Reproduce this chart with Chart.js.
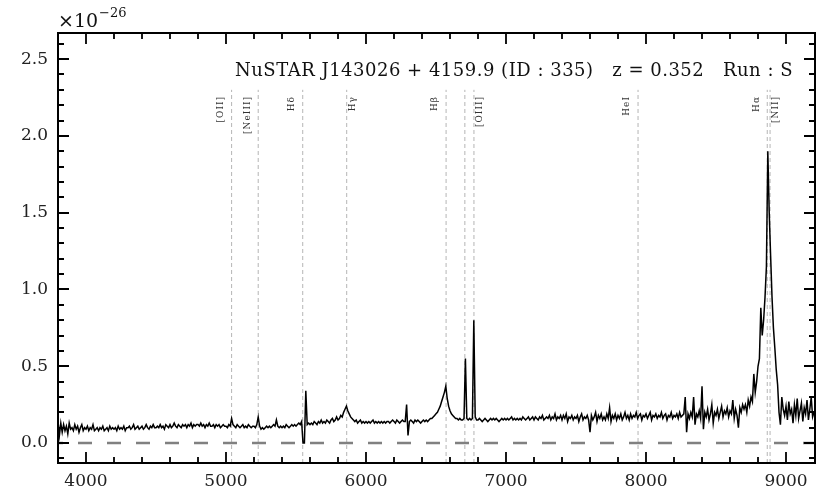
<!DOCTYPE html>
<html>
<head>
<meta charset="utf-8">
<script src="https://cdn.jsdelivr.net/npm/chart.js@4/dist/chart.umd.min.js"></script>
<style>
  html, body { margin: 0; padding: 0; background: #fff; }
</style>
</head>
<body>
<canvas id="spec" width="830" height="498"></canvas>
<script>
// spectrum sampled every 10 A from 3800 A (flux in units of 1e-26)
const waveStart = 3800;
const waveStep = 10;
const flux = [
  0.14, 0.05, 0.13, 0.07, 0.12, 0.08, 0.11, 0.06, 0.13, 0.09,  // 3800
  0.10, 0.08, 0.12, 0.09, 0.11, 0.07, 0.10, 0.12, 0.08, 0.10,  // 3900
  0.09, 0.11, 0.08, 0.10, 0.09, 0.12, 0.08, 0.09, 0.10, 0.08,  // 4000
  0.10, 0.09, 0.11, 0.08, 0.09, 0.10, 0.08, 0.11, 0.09, 0.10,  // 4100
  0.09, 0.10, 0.08, 0.11, 0.09, 0.10, 0.09, 0.11, 0.08, 0.10,  // 4200
  0.10, 0.11, 0.09, 0.10, 0.12, 0.09, 0.10, 0.11, 0.09, 0.10,  // 4300
  0.11, 0.09, 0.10, 0.12, 0.10, 0.09, 0.11, 0.10, 0.12, 0.10,  // 4400
  0.10, 0.11, 0.10, 0.12, 0.10, 0.11, 0.09, 0.12, 0.11, 0.10,  // 4500
  0.12, 0.10, 0.11, 0.13, 0.11, 0.10, 0.12, 0.11, 0.10, 0.12,  // 4600
  0.11, 0.12, 0.10, 0.12, 0.11, 0.13, 0.10, 0.12, 0.11, 0.12,  // 4700
  0.12, 0.11, 0.13, 0.11, 0.12, 0.10, 0.12, 0.11, 0.13, 0.11,  // 4800
  0.11, 0.12, 0.10, 0.12, 0.11, 0.12, 0.10, 0.11, 0.12, 0.11,  // 4900
  0.11, 0.10, 0.12, 0.11, 0.16, 0.12, 0.11, 0.10, 0.12, 0.11,  // 5000
  0.10, 0.11, 0.12, 0.10, 0.11, 0.10, 0.12, 0.11, 0.10, 0.11,  // 5100
  0.11, 0.10, 0.12, 0.17, 0.11, 0.09, 0.10, 0.09, 0.10, 0.11,  // 5200
  0.10, 0.11, 0.10, 0.11, 0.12, 0.11, 0.15, 0.11, 0.10, 0.11,  // 5300
  0.10, 0.11, 0.10, 0.12, 0.11, 0.10, 0.11, 0.12, 0.11, 0.12,  // 5400
  0.11, 0.12, 0.13, 0.12, 0.14, 0.00, 0.00, 0.34, 0.12, 0.13,  // 5500
  0.12, 0.13, 0.12, 0.14, 0.13, 0.12, 0.14, 0.13, 0.15, 0.13,  // 5600
  0.14, 0.13, 0.15, 0.14, 0.13, 0.15, 0.16, 0.14, 0.15, 0.17,  // 5700
  0.15, 0.16, 0.18, 0.17, 0.20, 0.22, 0.24, 0.21, 0.19, 0.17,  // 5800
  0.16, 0.15, 0.14, 0.15, 0.13, 0.14, 0.15, 0.13, 0.14, 0.13,  // 5900
  0.14, 0.13, 0.14, 0.13, 0.14, 0.15, 0.13, 0.14, 0.13, 0.14,  // 6000
  0.13, 0.14, 0.13, 0.14, 0.13, 0.14, 0.14, 0.13, 0.14, 0.15,  // 6100
  0.14, 0.13, 0.15, 0.14, 0.13, 0.14, 0.15, 0.14, 0.14, 0.25,  // 6200
  0.05, 0.14, 0.15, 0.14, 0.13, 0.15, 0.14, 0.15, 0.14, 0.13,  // 6300
  0.14, 0.15, 0.14, 0.15, 0.14, 0.15, 0.16, 0.16, 0.17, 0.18,  // 6400
  0.19, 0.20, 0.22, 0.24, 0.27, 0.30, 0.33, 0.37, 0.29, 0.24,  // 6500
  0.21, 0.19, 0.18, 0.17, 0.16, 0.16, 0.15, 0.16, 0.15, 0.15,  // 6600
  0.16, 0.55, 0.16, 0.15, 0.16, 0.15, 0.16, 0.80, 0.17, 0.15,  // 6700
  0.15, 0.16, 0.15, 0.14, 0.15, 0.16, 0.15, 0.14, 0.15, 0.16,  // 6800
  0.15, 0.16, 0.15, 0.16, 0.15, 0.14, 0.15, 0.16, 0.15, 0.16,  // 6900
  0.15, 0.16, 0.15, 0.16, 0.17, 0.15, 0.16, 0.15, 0.16, 0.15,  // 7000
  0.16, 0.15, 0.17, 0.16, 0.15, 0.16, 0.17, 0.15, 0.16, 0.17,  // 7100
  0.15, 0.17, 0.16, 0.15, 0.17, 0.16, 0.18, 0.15, 0.16, 0.17,  // 7200
  0.16, 0.18, 0.15, 0.17, 0.16, 0.19, 0.15, 0.17, 0.16, 0.18,  // 7300
  0.15, 0.18, 0.16, 0.19, 0.14, 0.17, 0.16, 0.18, 0.15, 0.17,  // 7400
  0.16, 0.18, 0.14, 0.17, 0.19, 0.15, 0.17, 0.16, 0.18, 0.15,  // 7500
  0.07, 0.18, 0.15, 0.17, 0.20, 0.14, 0.18, 0.16, 0.19, 0.15,  // 7600
  0.17, 0.15, 0.19, 0.16, 0.23, 0.14, 0.18, 0.16, 0.19, 0.15,  // 7700
  0.18, 0.16, 0.19, 0.15, 0.17, 0.20, 0.16, 0.18, 0.15, 0.19,  // 7800
  0.16, 0.18, 0.17, 0.20, 0.16, 0.18, 0.19, 0.15, 0.18, 0.17,  // 7900
  0.19, 0.16, 0.18, 0.20, 0.15, 0.18, 0.17, 0.19, 0.16, 0.18,  // 8000
  0.17, 0.20, 0.16, 0.18, 0.19, 0.15, 0.18, 0.17, 0.20, 0.16,  // 8100
  0.18, 0.17, 0.19, 0.16, 0.20, 0.17, 0.18, 0.19, 0.30, 0.07,  // 8200
  0.19, 0.16, 0.20, 0.17, 0.30, 0.12, 0.19, 0.17, 0.21, 0.16,  // 8300
  0.37, 0.09, 0.20, 0.17, 0.22, 0.15, 0.19, 0.25, 0.13, 0.20,  // 8400
  0.18, 0.22, 0.16, 0.20, 0.24, 0.17, 0.21, 0.19, 0.23, 0.17,  // 8500
  0.21, 0.19, 0.28, 0.16, 0.22, 0.18, 0.10, 0.23, 0.20, 0.25,  // 8600
  0.22, 0.25, 0.20, 0.28, 0.24, 0.30, 0.27, 0.45, 0.33, 0.40,  // 8700
  0.50, 0.55, 0.88, 0.70, 0.80, 0.95, 1.15, 1.90, 1.50, 1.22,  // 8800
  0.95, 0.75, 0.62, 0.48, 0.38, 0.20, 0.12, 0.30, 0.22, 0.18,  // 8900
  0.24, 0.15, 0.27, 0.19, 0.22, 0.13, 0.25, 0.18, 0.29, 0.16,  // 9000
  0.21, 0.26, 0.14, 0.23, 0.19, 0.28, 0.15, 0.22, 0.30, 0.17,  // 9100
  0.20                                                          // 9200
];

// emission lines (observed wavelength) and their labels
const lineWaves  = [5040, 5230, 5548, 5862, 6572, 6706, 6771, 7943, 8866, 8886];
const lineNames  = ['[OII]', '[NeIII]', 'H\u03b4', 'H\u03b3', 'H\u03b2', '', '[OIII]', 'HeI', 'H\u03b1', '[NII]'];
const lineSide   = [-1, -1, -1, 1, -1, 0, 1, -1, -1, 1];

const xMajor = [4000, 5000, 6000, 7000, 8000, 9000];
const yMajor = [0, 0.5, 1.0, 1.5, 2.0, 2.5];
const titleText = 'NuSTAR J143026 + 4159.9 (ID : 335)   z = 0.352   Run : S';

const serif = "'DejaVu Serif', serif";
const xMin = 3800, xMax = 9207, yMin = -0.13, yMax = 2.67;

const specPts = flux.map((f, i) => ({ x: waveStart + i * waveStep, y: f }));

const datasets = [
  { data: specPts, borderColor: '#000', borderWidth: 1.5, pointRadius: 0, tension: 0 },
  { data: [{ x: xMin, y: 0 }, { x: xMax, y: 0 }], borderColor: '#808080', borderWidth: 2.5,
    borderDash: [14, 15], borderDashOffset: 9, pointRadius: 0 }
];
lineWaves.forEach(w => {
  datasets.push({ data: [{ x: w, y: yMin }, { x: w, y: 2.3 }], borderColor: '#b5b5b5',
    borderWidth: 1, borderDash: [4, 3], pointRadius: 0 });
});

const decor = {
  id: 'decor',
  afterDraw(chart) {
    const ctx = chart.ctx, a = chart.chartArea;
    const xs = chart.scales.x, ys = chart.scales.y;
    ctx.save();

    // line labels
    ctx.fillStyle = '#333';
    ctx.font = '9px ' + serif;
    ctx.letterSpacing = '1px';
    ctx.textAlign = 'right';
    ctx.textBaseline = 'middle';
    lineWaves.forEach((w, i) => {
      if (!lineNames[i]) return;
      const px = xs.getPixelForValue(w) + (lineSide[i] < 0 ? -11 : 6);
      ctx.save();
      ctx.translate(px, 96);
      ctx.rotate(-Math.PI / 2);
      ctx.fillText(lineNames[i], 0, 0);
      ctx.restore();
    });

    // title inside the axes
    ctx.fillStyle = '#111';
    ctx.font = '18px ' + serif;
    ctx.letterSpacing = '0.5px';
    ctx.textAlign = 'right';
    ctx.textBaseline = 'alphabetic';
    ctx.fillText(titleText, 793, 76);
    ctx.letterSpacing = '0px';

    // offset text
    ctx.textAlign = 'left';
    ctx.font = '19px ' + serif;
    ctx.fillText('\u00d710', a.left, 27);
    const w10 = ctx.measureText('\u00d710').width;
    ctx.font = '13px ' + serif;
    ctx.fillText('\u221226', a.left + w10 + 1, 17);

    // inward ticks on all four sides
    ctx.strokeStyle = '#000';
    ctx.lineWidth = 1.8;
    ctx.beginPath();
    for (let v = 3800; v <= xMax; v += 200) {
      const px = Math.round(xs.getPixelForValue(v));
      if (px <= a.left + 1 || px >= a.right - 1) continue;
      const len = xMajor.includes(v) ? 11 : 6;
      ctx.moveTo(px, a.bottom); ctx.lineTo(px, a.bottom - len);
      ctx.moveTo(px, a.top); ctx.lineTo(px, a.top + len);
    }
    for (let k = -1; k <= 26; k++) {
      const v = k / 10;
      const py = Math.round(ys.getPixelForValue(v));
      const len = (k % 5 === 0) ? 11 : 6;
      ctx.moveTo(a.left, py); ctx.lineTo(a.left + len, py);
      ctx.moveTo(a.right, py); ctx.lineTo(a.right - len, py);
    }
    ctx.stroke();

    // frame
    ctx.lineWidth = 2;
    ctx.strokeRect(a.left, a.top, a.right - a.left, a.bottom - a.top);
    ctx.restore();
  }
};

Chart.defaults.font.family = serif;

new Chart(document.getElementById('spec'), {
  type: 'line',
  data: { datasets },
  options: {
    responsive: false,
    animation: false,
    devicePixelRatio: 1,
    layout: { padding: { left: 0, right: 15, top: 33, bottom: 0 } },
    plugins: { legend: { display: false }, tooltip: { enabled: false } },
    scales: {
      x: {
        type: 'linear', min: xMin, max: xMax,
        grid: { display: false, drawTicks: false },
        border: { display: false },
        ticks: { color: '#222', font: { size: 17 }, padding: 8, maxRotation: 0,
                 callback: v => String(v) },
        afterBuildTicks: s => { s.ticks = xMajor.map(v => ({ value: v })); },
        afterFit: s => { s.height = 35; }
      },
      y: {
        type: 'linear', min: yMin, max: yMax,
        grid: { display: false, drawTicks: false },
        border: { display: false },
        ticks: { color: '#222', font: { size: 17 }, padding: 10,
                 callback: v => v.toFixed(1) },
        afterBuildTicks: s => { s.ticks = yMajor.map(v => ({ value: v })); },
        afterFit: s => { s.width = 58; }
      }
    }
  },
  plugins: [decor]
});
</script>
</body>
</html>
